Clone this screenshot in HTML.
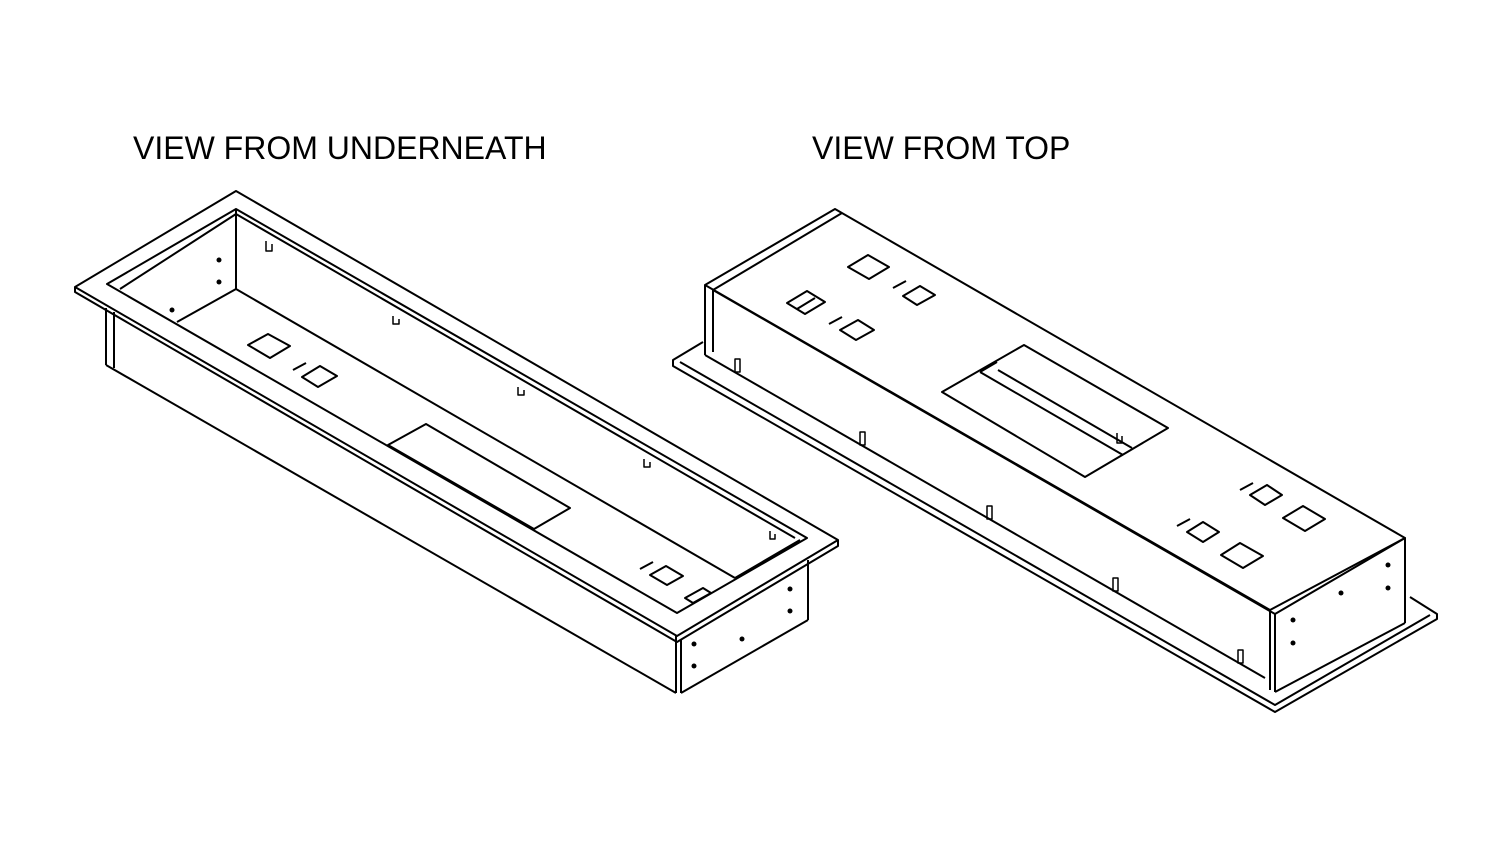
<!DOCTYPE html>
<html><head><style>
html,body{margin:0;padding:0;background:#fff;width:1500px;height:844px;overflow:hidden}
.t{position:absolute;font-family:"Liberation Sans",sans-serif;font-size:32px;color:#000;top:130px;letter-spacing:0px}
svg{position:absolute;left:0;top:0}
</style></head><body>
<div class="t" style="left:133px">VIEW FROM UNDERNEATH</div>
<div class="t" style="left:812px">VIEW FROM TOP</div>
<svg width="1500" height="844" viewBox="0 0 1500 844" fill="none" stroke="#000" stroke-width="2" stroke-linejoin="round">
<!-- LEFT -->
<polygon points="75,287 236,191 838,540 677,636"/>
<polyline points="75,287 75,292 677,642 838,546 838,540"/>
<polygon points="107,284 236,209 807,538 677,613"/>
<polyline points="120,289 236,214 795,538"/>
<line x1="236" y1="209" x2="236" y2="289"/>
<line x1="236" y1="289" x2="177" y2="322"/>
<line x1="236" y1="289" x2="735" y2="578"/>
<line x1="735" y1="578" x2="800" y2="540"/>
<polygon points="388,445 426,424 570,508 534,529"/>
<line x1="106" y1="308" x2="106" y2="365"/>
<line x1="114" y1="312" x2="114" y2="368"/>
<line x1="106" y1="365" x2="676" y2="693"/>
<line x1="676" y1="636" x2="676" y2="693"/>
<line x1="681" y1="640" x2="681" y2="693"/>
<line x1="681" y1="693" x2="808" y2="620"/>
<line x1="808" y1="560" x2="808" y2="620"/>
<polygon points="248,345 268,334 290,346 270,358"/>
<polygon points="302,377 320,366 337,376 318,387"/>
<line x1="293" y1="370" x2="306" y2="363"/>
<polygon points="650,575 666,566 683,576 667,585"/>
<line x1="640" y1="569" x2="653" y2="562"/>
<polygon points="685,598 703,588 711,593 693,603"/>
<g fill="#000" stroke="none">
<circle cx="219" cy="260" r="2.5"/><circle cx="219" cy="282" r="2.5"/><circle cx="172" cy="310" r="2.5"/>
<circle cx="694" cy="644" r="2.5"/><circle cx="694" cy="666" r="2.5"/><circle cx="742" cy="639" r="2.5"/>
<circle cx="790" cy="589" r="2.5"/><circle cx="790" cy="611" r="2.5"/>
</g>
<g stroke-width="1.5">
<path d="M266,241 v10 h6 v-7"/><path d="M393,316 v8 h6 v-5"/><path d="M518,387 v8 h6 v-5"/><path d="M644,459 v8 h6 v-5"/><path d="M770,531 v8 h5 v-5"/>
</g>
<!-- RIGHT -->
<polygon points="705,285 835,209 1405,538 1270,610"/>
<polyline points="713,290 842,213"/>
<line x1="713" y1="290" x2="1275" y2="614"/>
<line x1="705" y1="285" x2="705" y2="355"/>
<line x1="713" y1="290" x2="713" y2="352"/>
<line x1="1270" y1="610" x2="1270" y2="690"/>
<line x1="1275" y1="614" x2="1275" y2="692"/>
<polyline points="1275,614 1405,538 1405,623"/>
<line x1="1405" y1="623" x2="1275" y2="692"/>
<polyline points="703,342 673,360 673,366 1275,712 1437,619 1437,614 1410,597"/>
<polyline points="680,362 1275,705 1430,615"/>
<line x1="705" y1="355" x2="1265" y2="678"/>
<polygon points="942,392 1024,345 1168,428 1085,477"/>
<line x1="980" y1="372" x2="1123" y2="455"/>
<line x1="998" y1="370" x2="1132" y2="448"/>
<line x1="980" y1="372" x2="997" y2="362"/>
<path d="M1117,433 v10 h5 v-7" stroke-width="1.5"/>
<polygon points="848,267 868,255 889,267 869,279"/>
<polygon points="903,296 920,286 935,295 917,305"/>
<line x1="893" y1="288" x2="906" y2="281"/>
<polygon points="787,303 807,291 825,302 805,314"/>
<line x1="797" y1="309" x2="815" y2="298"/>
<polygon points="840,330 858,320 874,330 856,340"/>
<line x1="829" y1="324" x2="842" y2="317"/>
<polygon points="1250,495 1267,485 1282,495 1265,505"/>
<line x1="1240" y1="490" x2="1253" y2="483"/>
<polygon points="1283,518 1303,506 1325,519 1305,531"/>
<polygon points="1187,532 1203,522 1219,532 1203,542"/>
<line x1="1177" y1="526" x2="1190" y2="519"/>
<polygon points="1221,555 1240,543 1263,556 1243,568"/>
<g fill="#000" stroke="none">
<circle cx="1293" cy="620" r="2.5"/><circle cx="1293" cy="643" r="2.5"/><circle cx="1341" cy="593" r="2.5"/>
<circle cx="1388" cy="565" r="2.5"/><circle cx="1388" cy="588" r="2.5"/>
</g>
<g stroke-width="1.5">
<rect x="735" y="359" width="5" height="13"/><rect x="860" y="432" width="5" height="13"/><rect x="987" y="506" width="5" height="13"/><rect x="1113" y="578" width="5" height="13"/><rect x="1238" y="650" width="5" height="13"/>
</g>
</svg>
</body></html>
